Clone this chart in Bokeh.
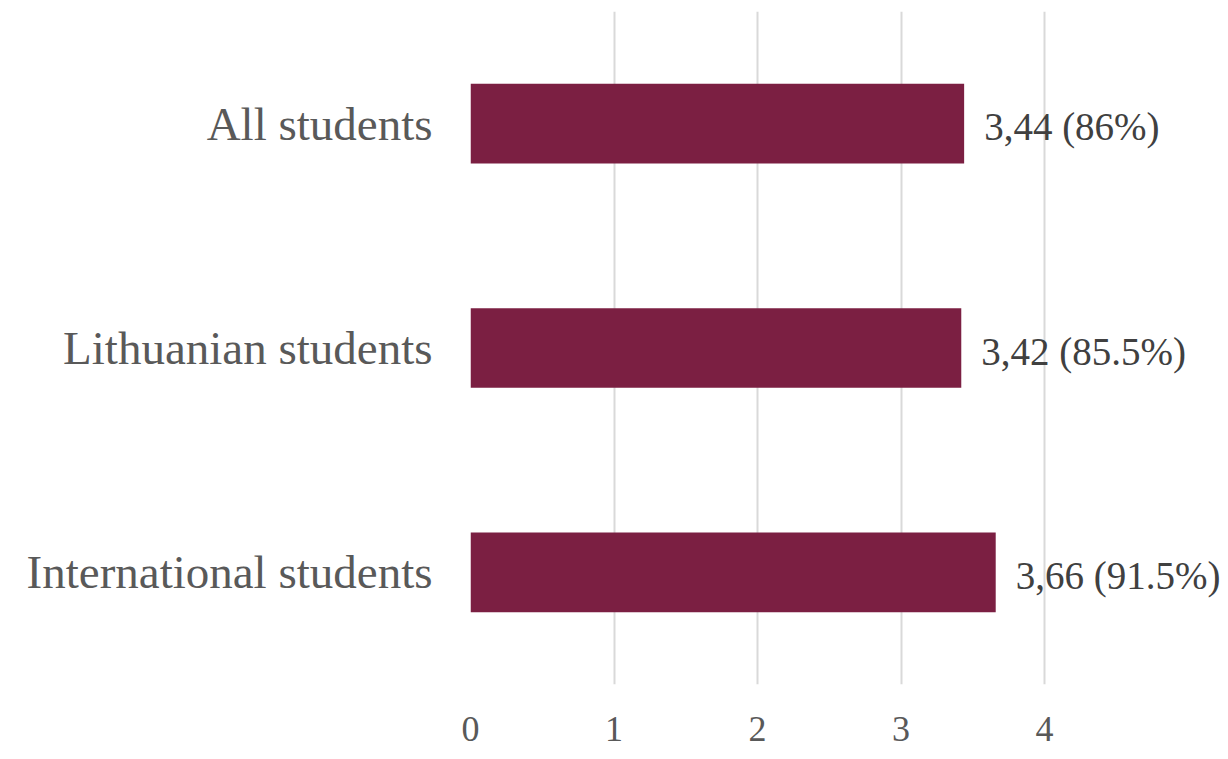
from bokeh.plotting import figure
from bokeh.models import ColumnDataSource, FactorRange, Range1d, FixedTicker, LabelSet
from bokeh.embed import file_html
from bokeh.resources import INLINE

categories = ["All students", "Lithuanian students", "International students"]
values = [3.44, 3.42, 3.66]
labels = ["3,44 (86%)", "3,42 (85.5%)", "3,66 (91.5%)"]
ticks = [0, 1, 2, 3, 4]

src = ColumnDataSource(dict(cat=categories, val=values, lab=labels))

W, H = 1222, 759
frame_left, frame_top = 470, 11
frame_w = W - frame_left
frame_h = 673
unit = 143.5

p = figure(width=W, height=H, output_backend="svg", toolbar_location=None,
           y_range=FactorRange(factors=list(reversed(categories)), range_padding=0),
           x_range=Range1d(0, frame_w / unit),
           min_border_left=frame_left, min_border_right=0,
           min_border_top=frame_top, min_border_bottom=H - frame_top - frame_h)
p.outline_line_color = None
p.background_fill_color = "white"
p.border_fill_color = "white"

p.hbar(y="cat", right="val", left=0, height=0.355, source=src,
       fill_color="#7B1F42", line_color=None)

lbl = LabelSet(x="val", y="cat", text="lab", source=src, x_offset=20, y_offset=-3,
               text_baseline="middle", text_align="left",
               text_font="Liberation Serif", text_font_size="39px", text_color="#404040")
p.add_layout(lbl)

p.xaxis.ticker = FixedTicker(ticks=ticks)
p.xaxis.axis_line_color = None
p.xaxis.major_tick_line_color = None
p.xaxis.minor_tick_line_color = None
p.xaxis.major_tick_out = 0
p.xaxis.major_label_standoff = 32
p.xaxis.major_label_text_font = "Liberation Serif"
p.xaxis.major_label_text_font_size = "36px"
p.xaxis.major_label_text_color = "#595959"

p.yaxis.axis_line_color = None
p.yaxis.major_tick_line_color = None
p.yaxis.major_tick_out = 0
p.yaxis.major_label_standoff = 38
p.yaxis.major_label_text_font = "Liberation Serif"
p.yaxis.major_label_text_font_size = "47px"
p.yaxis.major_label_text_color = "#595959"

p.xgrid.grid_line_color = "#d9d9d9"
p.xgrid.grid_line_width = 2
p.ygrid.grid_line_color = None

open("out.html", "w").write(file_html(p, INLINE))
